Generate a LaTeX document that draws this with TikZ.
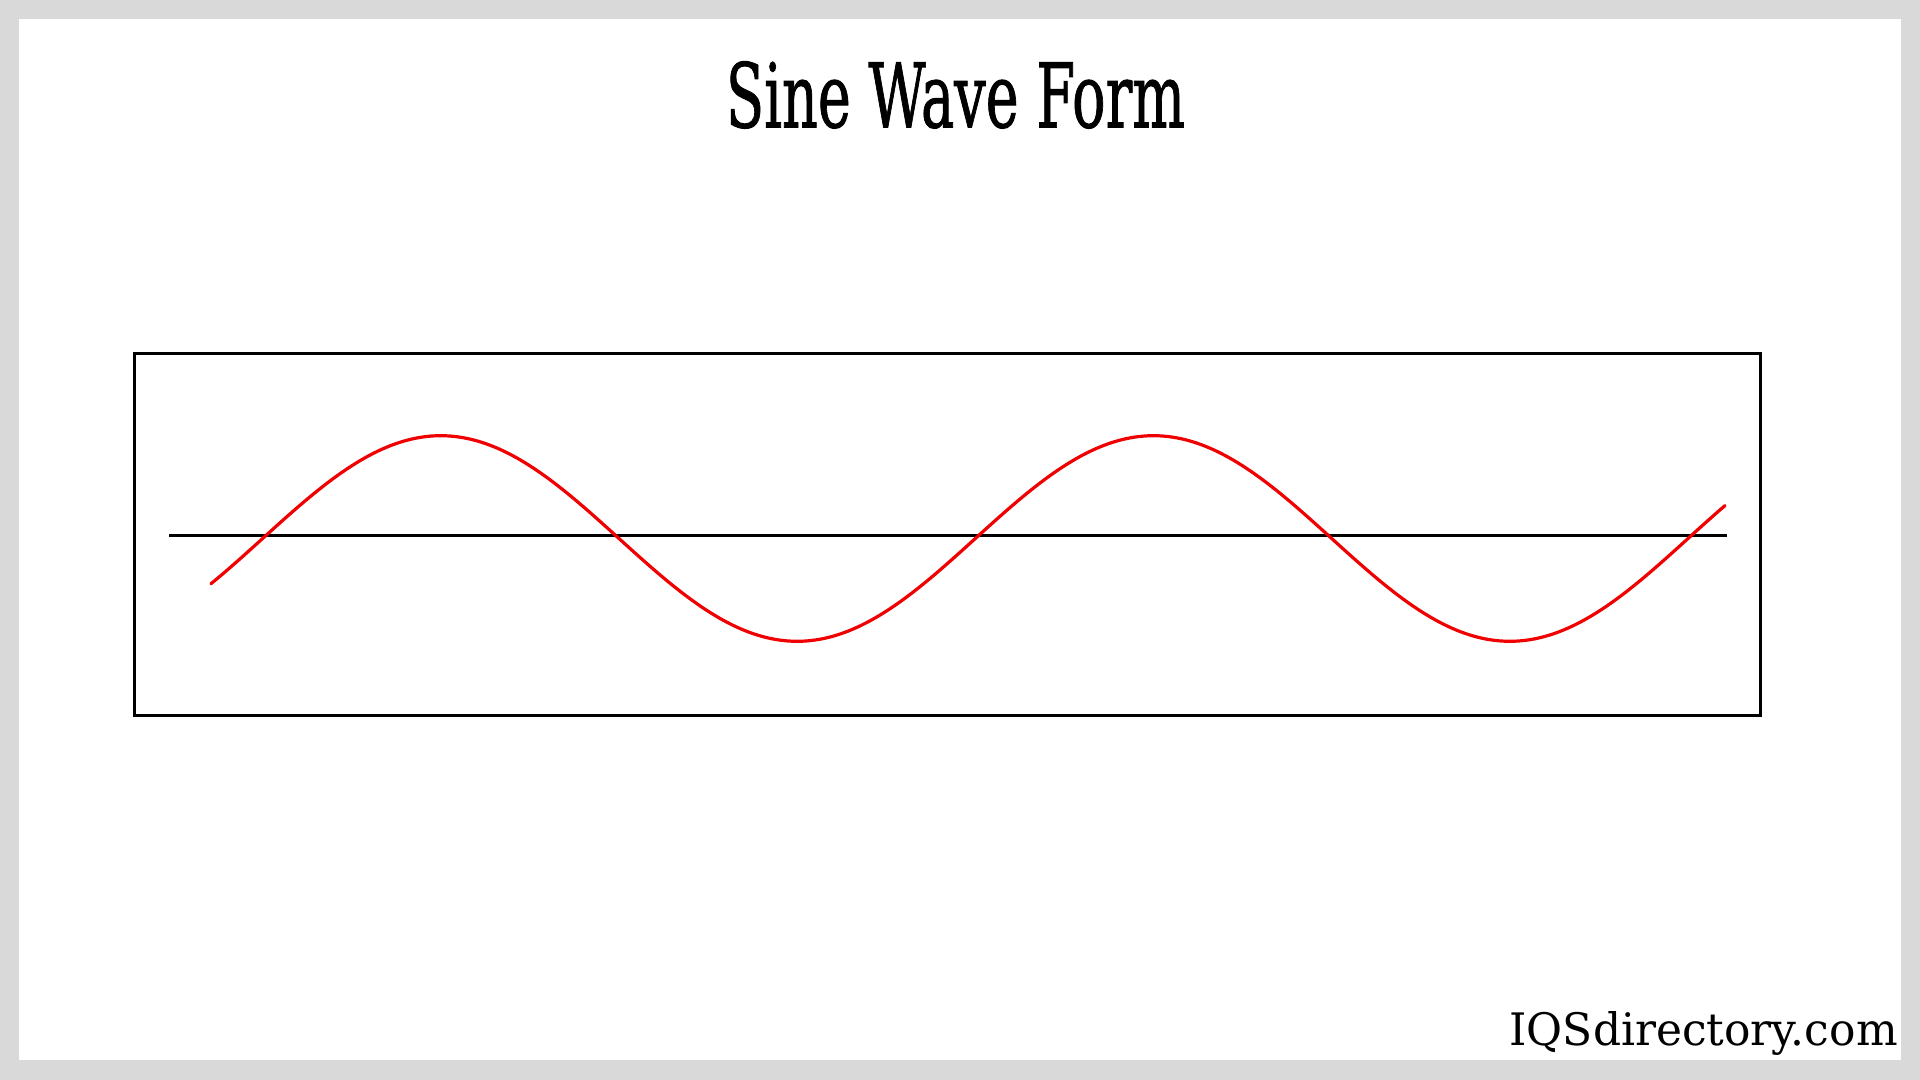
\documentclass[tikz,border=0pt]{standalone}
\usepackage{fontspec}
\usepackage{graphicx}
\newfontfamily\titlefont[FakeBold=1.2]{DejaVu Serif}
\newfontfamily\markfont{DejaVu Serif}
\definecolor{framegray}{HTML}{D9D9D9}
\definecolor{wavered}{HTML}{F00000}
\tikzset{
  framebox/.style={draw=black, line width=1.5pt},
  axisline/.style={draw=black, line width=1.5pt},
  wave/.style={draw=wavered, line width=1.6pt},
}
\begin{document}
\begin{tikzpicture}[x=0.5pt,y=-0.5pt]
\useasboundingbox (0,0) rectangle (1920,1080);
\fill[framegray] (0,0) rectangle (1920,1080);
\fill[white] (19,19) rectangle (1901,1060);
% box
\draw[framebox] (134.5,354) rectangle (1760.5,715.5);
% axis
\coordinate (axL) at (169,535);
\coordinate (axR) at (1727,535);
\draw[axisline] (axL) -- (axR);
% sine wave
\draw[wave, line cap=round, line join=round] plot[domain=211:1725, samples=300, smooth]
  (\x, {538.5 - 102.8*sin((\x-440.8)*0.505121+90)});
% title
\node[anchor=base, inner sep=0pt] (title) at (955.5,127.3)
  {\resizebox{229.5pt}{33pt}{\titlefont Sine Wave Form}};
% watermark
\node[anchor=base east, inner sep=0pt] (mark) at (1898,1045)
  {\resizebox{194pt}{17pt}{\markfont IQSdirectory.com}};
\end{tikzpicture}
\end{document}
